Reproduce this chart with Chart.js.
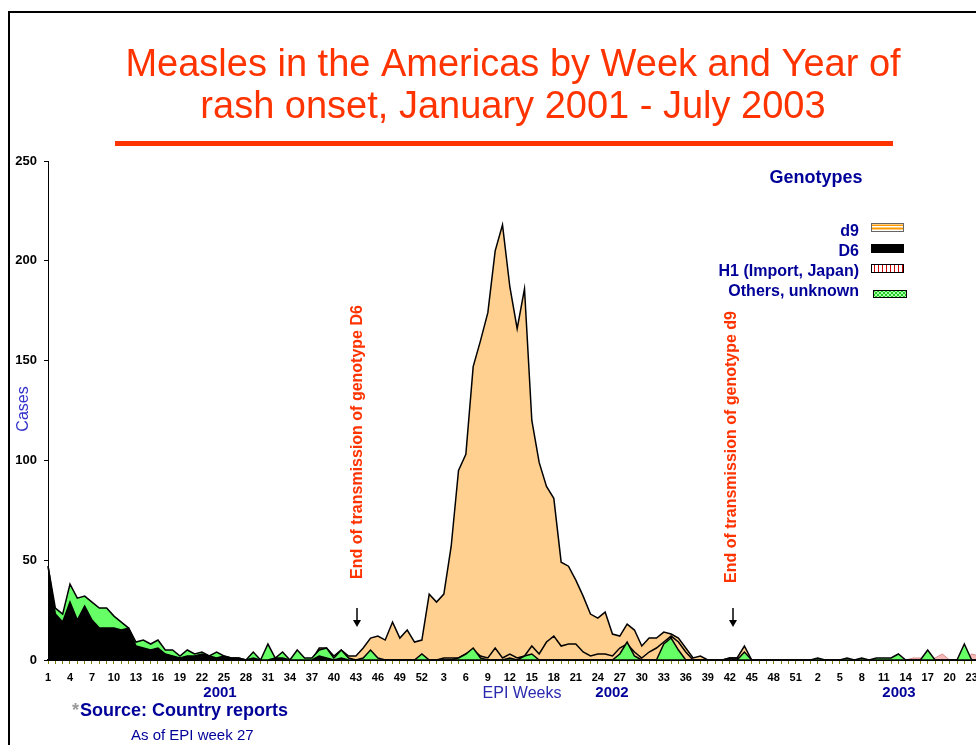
<!DOCTYPE html>
<html>
<head>
<meta charset="utf-8">
<title>Measles in the Americas</title>
<script src="https://cdn.jsdelivr.net/npm/chart.js@4.4.1/dist/chart.umd.min.js"></script>
<style>
  html, body { margin: 0; padding: 0; background: #fff; overflow: hidden; }
  #wrap { position: absolute; left: 0; top: 0; width: 1000px; height: 745px; }
</style>
</head>
<body>
<div id="wrap"><canvas id="chart"></canvas></div>
<script>
const FONT = "'Liberation Sans', Arial, sans-serif";
const RED  = '#FF3300';
const NAVY = '#000099';

const range = (a, b) => Array.from({ length: b - a + 1 }, (_, k) => a + k);

// EPI weeks on the x axis (2001, 2002, first part of 2003)
const weeks2001 = range(1, 52);
const weeks2002 = range(1, 52);
const weeks2003 = range(1, 24);
const weekLabels = [...weeks2001, ...weeks2002, ...weeks2003].map(String);

const yTicks = [0, 50, 100, 150, 200, 250];

// curve heights (cases per week)
const d6_2001 = [47,23,19,29,20,27,20,16,16,16, 15,16,7,6,5,6,3,2,1,2,
                 2,3,2,1,2,1,1,0,1,0, 0,1,1,0,0,0,0,2,1,0,
                 1,0,0,0,0,0,0,0,0,0, 0,0];
const others2001 = [47,26,23,38,31,32,29,26,26,22, 19,16,9,10,8,10,5,5,2,5,
                    3,4,2,4,2,1,1,0,4,0, 8,1,4,0,5,1,1,5,6,1,
                    5,1,0,1,5,1,0,0,0,0, 0,3];
const d9_2001 = [0,0,0,0,0,0,0,0,0,0, 0,0,0,0,0,0,0,0,0,0,
                 0,0,0,0,0,0,0,0,0,0, 0,0,0,0,0,0,0,6,6,2,
                 5,2,2,6,11,12,10,19,11,15, 9,10];

const d9_2002 = [33,29,33,57,95,103,147,160,174,205, 218,187,166,186,120,99,87,81,49,47,
                 40,32,23,21,24,13,12,18,15,7, 11,11,14,13,11,6,1,2,0,0,
                 0,1,1,7,0,0,0,0,0,0, 0,0];
const inner2002 = [0,0,1,1,1,3,5,2,1,6, 1,3,1,2,7,3,9,12,7,8,
                   8,4,2,3,3,2,6,8,4,1, 4,6,9,12,9,4,0,0,0,0,
                   0,1,1,0,0,0,0,0,0,0, 0,0];
const others2002 = [0,0,0,0,1,3,6,1,0,0, 0,1,0,2,3,0,0,0,0,0,
                    0,0,0,0,0,0,3,9,2,0, 0,0,8,11,5,0,0,0,0,0,
                    0,0,0,4,0,0,0,0,0,0, 0,0];

const others2003 = [0,1,0,0,0,1,0,1,0,1, 1,1,3,0,0,0,5,0,0,0, 0,8,0,0];
const h1_2003    = [0,0,0,0,0,0,0,0,0,0, 0,0,0,0,1,1,0,1,3,0, 0,0,3,2];

const zeros = n => new Array(n).fill(0);

const d6Series     = [...d6_2001, ...zeros(52), ...zeros(24)];
const othersSeries = [...others2001, ...others2002, ...others2003];
const h1Series     = [...zeros(52), ...zeros(52), ...h1_2003];
const innerSeries  = [...zeros(52), ...inner2002, ...zeros(24)];
const d9Series     = [...d9_2001, ...d9_2002, ...zeros(24)];

const TITLE = ['Measles in the Americas by Week and Year of', 'rash onset, January 2001 - July 2003'];
const LEGEND_ITEMS = ['d9', 'D6', 'H1 (Import, Japan)', 'Others, unknown'];
const YEARS = [['2001', 220], ['2002', 612], ['2003', 899]];

function text(ctx, s, x, y, font, color, align = 'left', baseline = 'alphabetic') {
  ctx.font = font;
  ctx.fillStyle = color;
  ctx.textAlign = align;
  ctx.textBaseline = baseline;
  ctx.fillText(s, x, y);
}

function vText(ctx, s, x, y, font, color) {
  ctx.save();
  ctx.translate(x, y);
  ctx.rotate(-Math.PI / 2);
  text(ctx, s, 0, 0, font, color, 'center', 'middle');
  ctx.restore();
}

function arrow(ctx, x, y0, y1) {
  ctx.strokeStyle = '#000';
  ctx.lineWidth = 1.5;
  ctx.beginPath();
  ctx.moveTo(x, y0);
  ctx.lineTo(x, y1 - 5);
  ctx.stroke();
  ctx.fillStyle = '#000';
  ctx.beginPath();
  ctx.moveTo(x - 4, y1 - 7);
  ctx.lineTo(x + 4, y1 - 7);
  ctx.lineTo(x, y1);
  ctx.closePath();
  ctx.fill();
}

function drawSwatches(ctx) {
  // d9
  ctx.fillStyle = '#fff';
  ctx.fillRect(871, 223, 33, 9);
  ctx.fillStyle = '#FF9900';
  ctx.fillRect(872, 224.5, 31, 1.5);
  ctx.fillRect(872, 227.5, 31, 2);
  ctx.strokeStyle = '#666';
  ctx.lineWidth = 1;
  ctx.strokeRect(871.5, 223.5, 32, 8);
  // D6
  ctx.fillStyle = '#000';
  ctx.fillRect(871, 244, 33, 9);
  // H1
  ctx.fillStyle = '#fff';
  ctx.fillRect(871, 264, 33, 9);
  ctx.fillStyle = '#CC0000';
  for (let x = 874; x < 904; x += 4) ctx.fillRect(x, 264, 1, 9);
  ctx.strokeStyle = '#000';
  ctx.strokeRect(871.5, 264.5, 32, 8);
  // others
  ctx.fillStyle = '#22CC22';
  ctx.fillRect(873, 290, 34, 8);
  ctx.fillStyle = '#AAFFAA';
  for (let y = 290; y < 298; y += 2)
    for (let x = 873 + (y % 4 ? 2 : 0); x < 907; x += 4) ctx.fillRect(x, y, 2, 2);
  ctx.strokeStyle = '#000';
  ctx.strokeRect(873.5, 290.5, 33, 7);
}

const decor = {
  id: 'decor',
  afterDraw(chart) {
    const ctx = chart.ctx;
    ctx.save();

    // slide frame
    ctx.fillStyle = '#000';
    ctx.fillRect(8, 11, 2, 740);
    ctx.fillRect(8, 11, 1000, 2);

    // title + rule
    text(ctx, TITLE[0], 513, 76, '38px ' + FONT, RED, 'center');
    text(ctx, TITLE[1], 513, 118, '38px ' + FONT, RED, 'center');
    ctx.fillStyle = RED;
    ctx.fillRect(115, 141, 778, 5);

    // legend
    text(ctx, 'Genotypes', 816, 183, 'bold 18px ' + FONT, NAVY, 'center');
    LEGEND_ITEMS.forEach((s, i) => text(ctx, s, 859, 236 + i * 20, 'bold 16px ' + FONT, NAVY, 'right'));
    drawSwatches(ctx);

    // axis titles and year labels
    vText(ctx, 'Cases', 24, 409, '16px ' + FONT, '#3333CC');
    text(ctx, 'EPI Weeks', 522, 698, '16px ' + FONT, '#2A2AB0', 'center');
    YEARS.forEach(([y, x]) => text(ctx, y, x, 697, 'bold 15px ' + FONT, NAVY, 'center'));

    // annotations
    vText(ctx, 'End of transmission of genotype D6', 358, 442, 'bold 16px ' + FONT, RED);
    vText(ctx, 'End of transmission of genotype d9', 732, 447, 'bold 16px ' + FONT, RED);
    arrow(ctx, 357, 608, 627);
    arrow(ctx, 733, 608, 627);

    // source note
    text(ctx, '*', 72, 716, 'bold 18px ' + FONT, '#999', 'left');
    text(ctx, 'Source: Country reports', 80, 716, 'bold 18px ' + FONT, NAVY, 'left');
    text(ctx, 'As of EPI week 27', 131, 740, '15px ' + FONT, NAVY, 'left');

    ctx.restore();
  }
};

function area(label, data, fill, border, extra = {}) {
  return {
    label, data,
    backgroundColor: fill,
    borderColor: border,
    borderWidth: 1.5,
    fill: 'origin',
    tension: 0,
    pointRadius: 0,
    ...extra,
  };
}

new Chart(document.getElementById('chart'), {
  type: 'line',
  data: {
    labels: weekLabels,
    // index 0 is painted last (front)
    datasets: [
      area('D6', d6Series, '#000', '#000'),
      area('Others, unknown', othersSeries, '#66FF66', '#000'),
      area('H1 (Import, Japan)', h1Series, '#F4BABA', '#D88888', { borderWidth: 1 }),
      area('d9 inner', innerSeries, 'rgba(0,0,0,0)', '#000', { fill: false }),
      area('d9', d9Series, '#FFD08F', '#000'),
    ],
  },
  options: {
    responsive: true,
    maintainAspectRatio: false,
    animation: false,
    layout: { padding: { top: 161, right: 21, left: 0, bottom: 0 } },
    plugins: { legend: { display: false }, tooltip: { enabled: false } },
    scales: {
      x: {
        type: 'category',
        offset: false,
        afterFit: s => { s.height = 85; },
        grid: { display: true, drawOnChartArea: false, drawTicks: true, tickLength: 4, color: '#808000', offset: false },
        border: { color: '#000', width: 2 },
        ticks: {
          autoSkip: false,
          maxRotation: 0,
          minRotation: 0,
          padding: 7,
          color: '#000',
          font: { family: FONT, size: 11, weight: 'bold' },
          callback: (v, i) => (i % 3 === 0 ? weekLabels[i] : ''),
        },
      },
      y: {
        min: 0,
        max: 250,
        afterFit: s => { s.width = 48; },
        afterBuildTicks: s => { s.ticks = yTicks.map(v => ({ value: v })); },
        grid: { display: true, drawOnChartArea: false, drawTicks: true, tickLength: 4, color: '#000' },
        border: { color: '#000', width: 1 },
        ticks: {
          padding: 7,
          color: '#000',
          font: { family: FONT, size: 13, weight: 'bold' },
        },
      },
    },
  },
  plugins: [decor],
});
</script>
</body>
</html>
